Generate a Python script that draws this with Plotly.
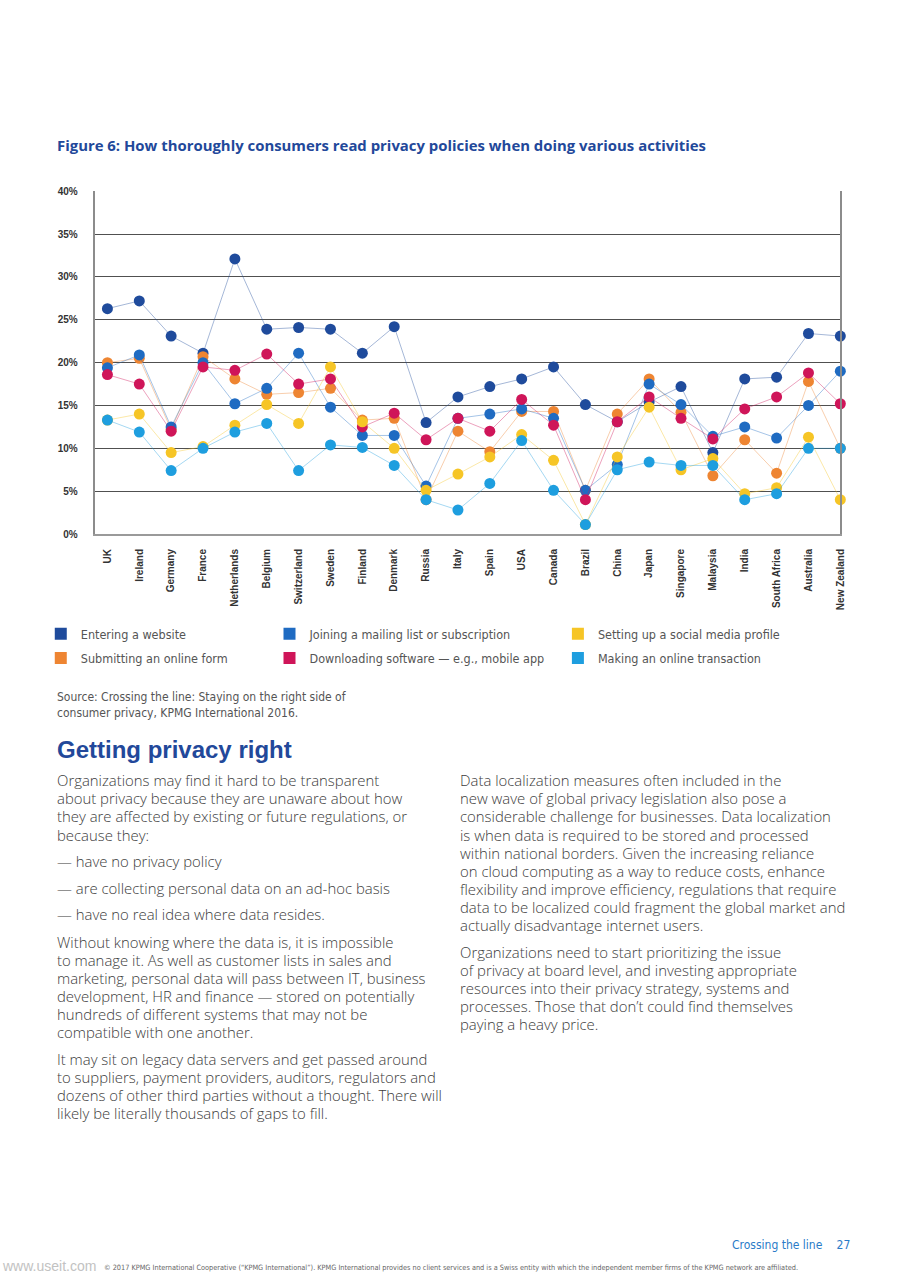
import plotly.graph_objects as go

W, H = 905, 1280

countries = ["UK", "Ireland", "Germany", "France", "Netherlands", "Belgium", "Switzerland",
             "Sweden", "Finland", "Denmark", "Russia", "Italy", "Spain", "USA", "Canada",
             "Brazil", "China", "Japan", "Singapore", "Malaysia", "India", "South Africa",
             "Australia", "New Zealand"]

entering = [26.3, 27.2, 23.1, 21.1, 32.1, 23.9, 24.1, 23.9, 21.1, 24.2, 13.0, 16.0,
            17.2, 18.1, 19.5, 15.1, 13.1, 15.4, 17.2, 9.5, 18.1, 18.3, 23.4, 23.1]
joining = [19.4, 20.9, 12.5, 20.0, 15.2, 17.0, 21.1, 14.8, 11.5, 11.5, 5.6, 13.5,
           14.0, 14.6, 13.5, 5.1, 8.1, 17.5, 15.1, 11.4, 12.5, 11.2, 15.0, 19.0]
social = [13.3, 14.0, 9.5, 10.2, 12.7, 15.1, 12.9, 19.5, 13.1, 10.0, 5.1, 7.0,
          9.0, 11.6, 8.6, 1.1, 9.0, 14.8, 7.5, 8.8, 4.7, 5.4, 11.3, 4.0]
submitting = [20.0, 20.5, 12.2, 20.7, 18.1, 16.3, 16.5, 17.0, 13.3, 13.5, 4.0, 12.0,
              9.6, 14.3, 14.3, 5.1, 14.0, 18.1, 14.2, 6.8, 11.0, 7.1, 17.8, 10.0]
downloading = [18.6, 17.5, 12.0, 19.5, 19.1, 21.0, 17.5, 18.1, 12.5, 14.1, 11.0, 13.5,
               12.0, 15.7, 12.7, 4.0, 13.1, 16.0, 13.5, 11.1, 14.6, 16.0, 18.8, 15.2]
transaction = [13.3, 11.9, 7.4, 10.0, 11.9, 12.9, 7.4, 10.4, 10.1, 8.0, 4.0, 2.8,
               5.9, 10.9, 5.1, 1.1, 7.5, 8.4, 8.0, 8.0, 4.0, 4.7, 10.0, 10.0]

series_names = ["Entering a website", "Submitting an online form",
                "Joining a mailing list or subscription", "Downloading software \u2014 e.g., mobile app",
                "Setting up a social media profile", "Making an online transaction"]
series_values = [entering, submitting, joining, downloading, social, transaction]
series_colors = ["#1F4B9C", "#EE8532", "#1F6BC2", "#CF1559", "#F6C526", "#1E9EDF"]
series_legend = ["legend", "legend", "legend2", "legend2", "legend3", "legend3"]

y_ticks = [0, 5, 10, 15, 20, 25, 30, 35, 40]
y_tick_labels = [f"{v}%" for v in y_ticks]

title_text = "Figure 6: How thoroughly consumers read privacy policies when doing various activities"
source_text = ("Source: Crossing the line: Staying on the right side of<br>"
               "consumer privacy, KPMG International 2016.")
heading_text = "Getting privacy right"

# (lines, y of first line centre)
left_paras = [
    (["Organizations may find it hard to be transparent",
      "about privacy because they are unaware about how",
      "they are affected by existing or future regulations, or",
      "because they:"], 781.5),
    (["\u2014 have no privacy policy"], 863.5),
    (["\u2014 are collecting personal data on an ad-hoc basis"], 890.5),
    (["\u2014 have no real idea where data resides."], 916.5),
    (["Without knowing where the data is, it is impossible",
      "to manage it. As well as customer lists in sales and",
      "marketing, personal data will pass between IT, business",
      "development, HR and finance \u2014 stored on potentially",
      "hundreds of different systems that may not be",
      "compatible with one another."], 944.5),
    (["It may sit on legacy data servers and get passed around",
      "to suppliers, payment providers, auditors, regulators and",
      "dozens of other third parties without a thought. There will",
      "likely be literally thousands of gaps to fill."], 1062.5),
]
right_paras = [
    (["Data localization measures often included in the",
      "new wave of global privacy legislation also pose a",
      "considerable challenge for businesses. Data localization",
      "is when data is required to be stored and processed",
      "within national borders. Given the increasing reliance",
      "on cloud computing as a way to reduce costs, enhance",
      "flexibility and improve efficiency, regulations that require",
      "data to be localized could fragment the global market and",
      "actually disadvantage internet users."], 781.5),
    (["Organizations need to start prioritizing the issue",
      "of privacy at board level, and investing appropriate",
      "resources into their privacy strategy, systems and",
      "processes. Those that don\u2019t could find themselves",
      "paying a heavy price."], 954.5),
]
LINE_STEP = 18.3

footer_text = "Crossing the line\u2003 27"
copyright_text = ("\u00a9 2017 KPMG International Cooperative (\u201cKPMG International\u201d). KPMG International provides "
                  "no client services and is a Swiss entity with which the independent member firms of the KPMG network are affiliated.")
watermark_text = "www.useit.com"

NARROW = "Liberation Sans Narrow, DejaVu Sans Condensed, Arial Narrow, sans-serif"
SANS = "Liberation Sans, Arial, sans-serif"
BODY = "Open Sans, Liberation Sans, Arial, sans-serif"
BLUE = "#22489A"
TEXT = "#3c3c3c"


def px(x):
    return x / W


def py(y):
    return 1 - y / H


def hex_rgba(h, a):
    h = h.lstrip("#")
    return f"rgba({int(h[0:2], 16)},{int(h[2:4], 16)},{int(h[4:6], 16)},{a})"


fig = go.Figure()

for name, vals, col in zip(series_names, series_values, series_colors):
    fig.add_trace(go.Scatter(
        x=countries, y=vals, mode="lines+markers", name=name, showlegend=False,
        line=dict(color=hex_rgba(col, 0.4), width=1),
        marker=dict(color=col, size=11, line=dict(width=0)),
        cliponaxis=False,
    ))

for name, col, lg in zip(series_names, series_colors, series_legend):
    fig.add_trace(go.Scatter(
        x=[None], y=[None], mode="markers", name=name, legend=lg, legendgroup=name,
        marker=dict(color=col, size=12, symbol="square"),
    ))

legend_common = dict(
    yanchor="top", xanchor="left", y=py(619), bgcolor="rgba(0,0,0,0)",
    font=dict(family=NARROW, size=12.5, color="#555555"), tracegroupgap=5,
    itemclick=False, itemdoubleclick=False,
)

fig.update_layout(
    width=W, height=H, margin=dict(l=0, r=0, t=0, b=0),
    paper_bgcolor="white", plot_bgcolor="white",
    xaxis=dict(
        domain=[px(96), px(845)], type="category", range=[-0.375, 23],
        categoryorder="array", categoryarray=countries,
        showgrid=False, zeroline=False, showline=True, linecolor="#9a9a9a", linewidth=2,
        mirror=False, ticks="", tickangle=-90, ticklabelstandoff=9,
        tickfont=dict(family=SANS, size=10, color="#333333", weight="bold"),
        fixedrange=True,
    ),
    yaxis=dict(
        domain=[py(533), py(187)], range=[0, 40], tickvals=y_ticks, ticktext=y_tick_labels,
        showgrid=True, gridcolor="#505050", gridwidth=1, zeroline=False,
        showline=True, linecolor="#8c8c8c", linewidth=1.5, mirror=True,
        ticks="", ticklabelstandoff=14,
        tickfont=dict(family=SANS, size=10, color="#333333", weight="bold"),
        fixedrange=True,
    ),
    legend=dict(x=px(41), **legend_common),
    legend2=dict(x=px(271), **legend_common),
    legend3=dict(x=px(561), **legend_common),
)

ann = []
ann.append(dict(text=title_text, x=px(55), y=py(140), xanchor="left", yanchor="middle",
                font=dict(family=BODY, size=14.9, color=BLUE, weight="bold")))
ann.append(dict(text=source_text, x=px(55), y=py(688), xanchor="left", yanchor="top", align="left",
                font=dict(family=NARROW, size=12, color="#555555")))
ann.append(dict(text=heading_text, x=px(55), y=py(751), xanchor="left", yanchor="middle",
                font=dict(family=SANS, size=24, color=BLUE, weight="bold")))
for col_x, paras in ((55, left_paras), (461, right_paras)):
    for lines, y0 in paras:
        for i, line in enumerate(lines):
            ann.append(dict(text=line, x=px(col_x), y=py(y0 + i * LINE_STEP), xanchor="left",
                            yanchor="middle", font=dict(family=BODY, size=14.9, color=TEXT, weight=300)))
ann.append(dict(text=footer_text, x=px(857), y=py(1251), xanchor="right", yanchor="middle",
                font=dict(family=NARROW, size=12, color="#2A7BC8")))
ann.append(dict(text=copyright_text, x=px(103), y=py(1273), xanchor="left", yanchor="middle",
                font=dict(family=NARROW, size=7.3, color="#666666")))
ann.append(dict(text=watermark_text, x=px(0), y=py(1272), xanchor="left", yanchor="middle",
                font=dict(family=SANS, size=14, color="#c2c2c2")))

for a in ann:
    a.update(xref="paper", yref="paper", showarrow=False)
fig.update_layout(annotations=ann)

fig.write_html(
    "out.html",
    config={"displayModeBar": False},
    post_script="document.documentElement.style.margin='0';document.body.style.margin='0';"
                "document.body.style.padding='0';document.body.style.overflow='hidden';"
                "document.documentElement.style.overflow='hidden';",
)
